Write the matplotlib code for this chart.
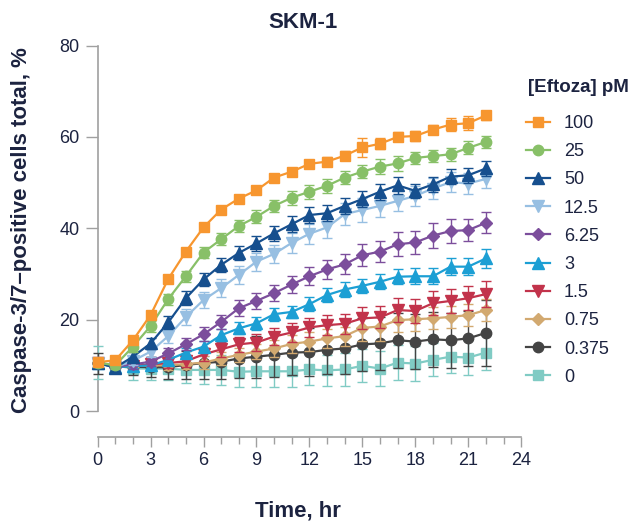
import matplotlib
matplotlib.use("Agg")
import matplotlib.pyplot as plt
from matplotlib.lines import Line2D

plt.rcParams['font.family'] = ['Liberation Sans', 'DejaVu Sans']

# time points (hr)
hours = list(range(23))

# [Eftoza] pM -> mean % caspase-3/7 positive cells
conc_labels = ['100', '25', '50', '12.5', '6.25', '3', '1.5', '0.75', '0.375', '0']

pct_100 = [10.7, 11.1, 15.5, 21.0, 28.9, 34.9, 40.2, 44.1, 46.5, 48.3, 51.1, 52.4, 54.1, 54.6, 55.9, 57.7, 58.5, 60.0, 60.2, 61.6, 62.7, 63.0, 64.7]
pct_25 = [10.6, 10.0, 14.1, 18.6, 24.5, 29.5, 34.7, 37.6, 40.5, 42.5, 44.9, 46.7, 48.0, 49.3, 51.1, 52.4, 53.5, 54.2, 55.4, 55.8, 56.2, 57.6, 58.9]
pct_50 = [10.5, 9.5, 11.9, 14.8, 19.4, 24.7, 28.8, 32.0, 34.6, 36.7, 38.9, 40.9, 42.9, 43.3, 44.9, 46.4, 48.0, 49.4, 48.2, 49.6, 51.3, 51.6, 53.1]
pct_12_5 = [10.5, 9.6, 11.0, 13.0, 16.4, 20.6, 24.3, 26.9, 29.8, 32.7, 34.4, 36.8, 38.8, 40.2, 43.1, 44.0, 44.9, 46.0, 47.1, 48.7, 50.1, 49.8, 50.8]
pct_6_25 = [10.5, 9.7, 10.2, 10.8, 12.6, 14.6, 16.8, 19.5, 22.5, 24.1, 25.8, 27.7, 29.5, 31.0, 32.1, 34.1, 34.9, 36.5, 36.9, 38.4, 39.4, 39.6, 41.2]
pct_3 = [10.5, 9.6, 9.8, 10.0, 11.2, 12.8, 14.1, 16.6, 18.1, 19.2, 21.2, 21.7, 23.4, 25.4, 26.6, 27.4, 28.3, 29.4, 29.5, 29.5, 31.6, 31.6, 33.4]
pct_1_5 = [10.5, 9.7, 9.9, 10.2, 10.5, 10.9, 12.4, 13.5, 14.6, 15.0, 16.3, 17.2, 18.3, 18.8, 19.1, 20.3, 20.5, 22.1, 21.9, 23.6, 24.1, 24.7, 25.6]
pct_0_75 = [10.5, 9.8, 9.9, 10.0, 10.0, 10.3, 10.6, 11.5, 12.3, 13.0, 13.7, 14.7, 15.2, 15.9, 16.4, 18.2, 18.5, 19.9, 20.1, 20.3, 20.6, 21.0, 22.1]
pct_0_375 = [10.5, 9.8, 9.7, 9.6, 9.6, 10.1, 10.5, 10.8, 11.5, 11.9, 12.3, 12.8, 12.9, 13.4, 13.7, 14.6, 14.8, 15.5, 15.2, 15.7, 15.5, 15.9, 17.1]
pct_0 = [10.6, 10.0, 9.3, 9.3, 9.3, 9.0, 9.0, 9.0, 8.6, 8.7, 8.7, 8.7, 9.1, 8.9, 9.1, 9.9, 9.3, 10.6, 10.4, 11.2, 11.9, 11.7, 12.8]

# error bars (SD)
sd_100 = [0.8, 0.6, 0.8, 0.8, 0.8, 0.8, 0.8, 0.8, 0.8, 0.8, 0.8, 0.8, 0.8, 1.0, 1.0, 2.0, 1.2, 1.0, 1.0, 1.0, 1.5, 1.5, 1.0]
sd_25 = [1.0, 0.8, 1.2, 1.2, 1.2, 1.2, 1.3, 1.3, 1.3, 1.4, 1.4, 1.5, 1.5, 1.5, 1.5, 1.5, 1.6, 1.6, 1.4, 1.4, 1.4, 1.4, 1.4]
sd_50 = [1.0, 0.8, 1.0, 1.2, 1.5, 1.5, 1.5, 1.5, 1.6, 1.6, 1.6, 1.7, 1.8, 1.8, 1.8, 1.8, 1.8, 1.8, 1.6, 1.6, 1.7, 1.7, 1.6]
sd_12_5 = [1.0, 0.8, 1.0, 1.2, 1.5, 1.8, 1.8, 1.9, 2.0, 2.0, 2.0, 2.2, 2.2, 2.4, 2.4, 2.6, 2.4, 2.2, 2.2, 2.2, 2.2, 2.2, 2.0]
sd_6_25 = [1.0, 0.8, 1.0, 1.0, 1.2, 1.3, 1.5, 1.6, 1.8, 1.8, 1.8, 1.9, 2.0, 2.0, 2.2, 2.4, 2.3, 2.6, 2.6, 2.8, 2.6, 2.4, 2.3]
sd_3 = [1.0, 0.8, 0.8, 0.8, 1.0, 1.1, 1.2, 1.3, 1.3, 1.4, 1.4, 1.4, 1.5, 1.5, 1.6, 1.6, 1.6, 1.7, 1.7, 1.7, 1.9, 1.9, 2.1]
sd_1_5 = [1.0, 0.8, 0.9, 1.0, 1.1, 1.3, 1.5, 1.6, 1.7, 1.8, 1.9, 2.0, 2.1, 2.2, 2.2, 2.4, 2.4, 2.6, 2.6, 2.6, 2.6, 2.6, 2.9]
sd_0_75 = [1.0, 0.8, 0.9, 1.0, 1.1, 1.2, 1.4, 1.5, 1.6, 1.7, 1.8, 1.9, 2.0, 2.1, 2.1, 2.8, 3.2, 2.6, 2.6, 2.4, 2.4, 2.4, 2.4]
sd_0_375 = [2.3, 1.0, 1.8, 2.2, 2.6, 3.0, 3.4, 3.8, 4.2, 4.6, 4.8, 5.0, 5.2, 5.4, 5.6, 5.8, 5.8, 6.0, 6.0, 6.0, 6.0, 6.0, 7.2]
sd_0 = [3.6, 1.5, 2.5, 2.6, 2.6, 2.8, 3.0, 3.2, 3.4, 3.4, 3.4, 3.4, 3.4, 3.4, 3.6, 3.6, 3.8, 3.8, 3.8, 3.6, 3.6, 3.8, 3.8]

means = [pct_100, pct_25, pct_50, pct_12_5, pct_6_25, pct_3, pct_1_5, pct_0_75, pct_0_375, pct_0]
sds = [sd_100, sd_25, sd_50, sd_12_5, sd_6_25, sd_3, sd_1_5, sd_0_75, sd_0_375, sd_0]
colors = ['#f7962f', '#88c068', '#164f8e', '#97bfe2', '#7c4e9c', '#1c9fd4',
          '#c2334b', '#d2a970', '#444444', '#80cbc4']
markers = ['s', 'o', '^', 'v', 'D', '^', 'v', 'D', 'o', 's']
msizes = [7.5, 7.5, 8, 8, 6, 8, 8, 6, 7.5, 7.5]

text_col = '#1c2340'
axis_col = '#a0a0a0'

fig = plt.figure(figsize=(6.34, 5.27), dpi=100)
ax = fig.add_axes([0.154, 0.1713, 0.668, 0.7423])

# draw lowest concentration first so 100 pM ends on top
for i in reversed(range(len(means))):
    ax.errorbar(hours, means[i], yerr=sds[i], color=colors[i], marker=markers[i],
                ms=msizes[i], lw=1.6, elinewidth=1.0, capsize=3.5, capthick=1.0,
                clip_on=False, zorder=3 + (len(means) - i))

ax.set_xlim(0, 24)
ax.set_ylim(-5.62, 80)
ax.spines['top'].set_visible(False)
ax.spines['right'].set_visible(False)
ax.spines['left'].set_bounds(0, 80)
for s in ['left', 'bottom']:
    ax.spines[s].set_color(axis_col)
    ax.spines[s].set_linewidth(1.2)

ax.set_yticks([0, 20, 40, 60, 80])
ax.set_xticks(range(0, 25, 3))
ax.set_xticks(range(0, 25, 1), minor=True)
ax.tick_params(axis='y', length=8.6, width=1, color=axis_col, pad=4.3,
               labelsize=13, labelcolor=text_col)
ax.tick_params(axis='x', which='major', length=7.2, width=1, color=axis_col, pad=4,
               labelsize=13, labelcolor=text_col)
ax.tick_params(axis='x', which='minor', length=4.8, width=1, color=axis_col)

fig.text(303 / 634, 1 - 22 / 527, 'SKM-1', ha='center', va='center',
         fontsize=16, fontweight='bold', color=text_col)
fig.text(297.5 / 634, 1 - 511 / 527, 'Time, hr', ha='center', va='center',
         fontsize=16, fontweight='bold', color=text_col)
fig.text(22 / 634, 1 - 230 / 527, 'Caspase-3/7\u2013positive cells total, %',
         ha='center', va='center', rotation=90,
         fontsize=16, fontweight='bold', color=text_col)

# legend title placed on its own, entries below
fig.text(527.5 / 634, 1 - 87 / 527, '[Eftoza] pM', ha='left', va='center',
         fontsize=13.5, fontweight='bold', color=text_col)
handles = [Line2D([], [], color=colors[i], marker=markers[i], ms=msizes[i], lw=1.6)
           for i in range(len(means))]
leg = ax.legend(handles, conc_labels, loc='upper left',
                bbox_to_anchor=(526 / 634, 1 - 115 / 527), bbox_transform=fig.transFigure,
                frameon=False, fontsize=13, handlelength=1.35, handletextpad=0.75,
                labelspacing=0.62, borderpad=0, borderaxespad=0)
for t in leg.get_texts():
    t.set_color(text_col)

fig.savefig('out.png', dpi=100)
